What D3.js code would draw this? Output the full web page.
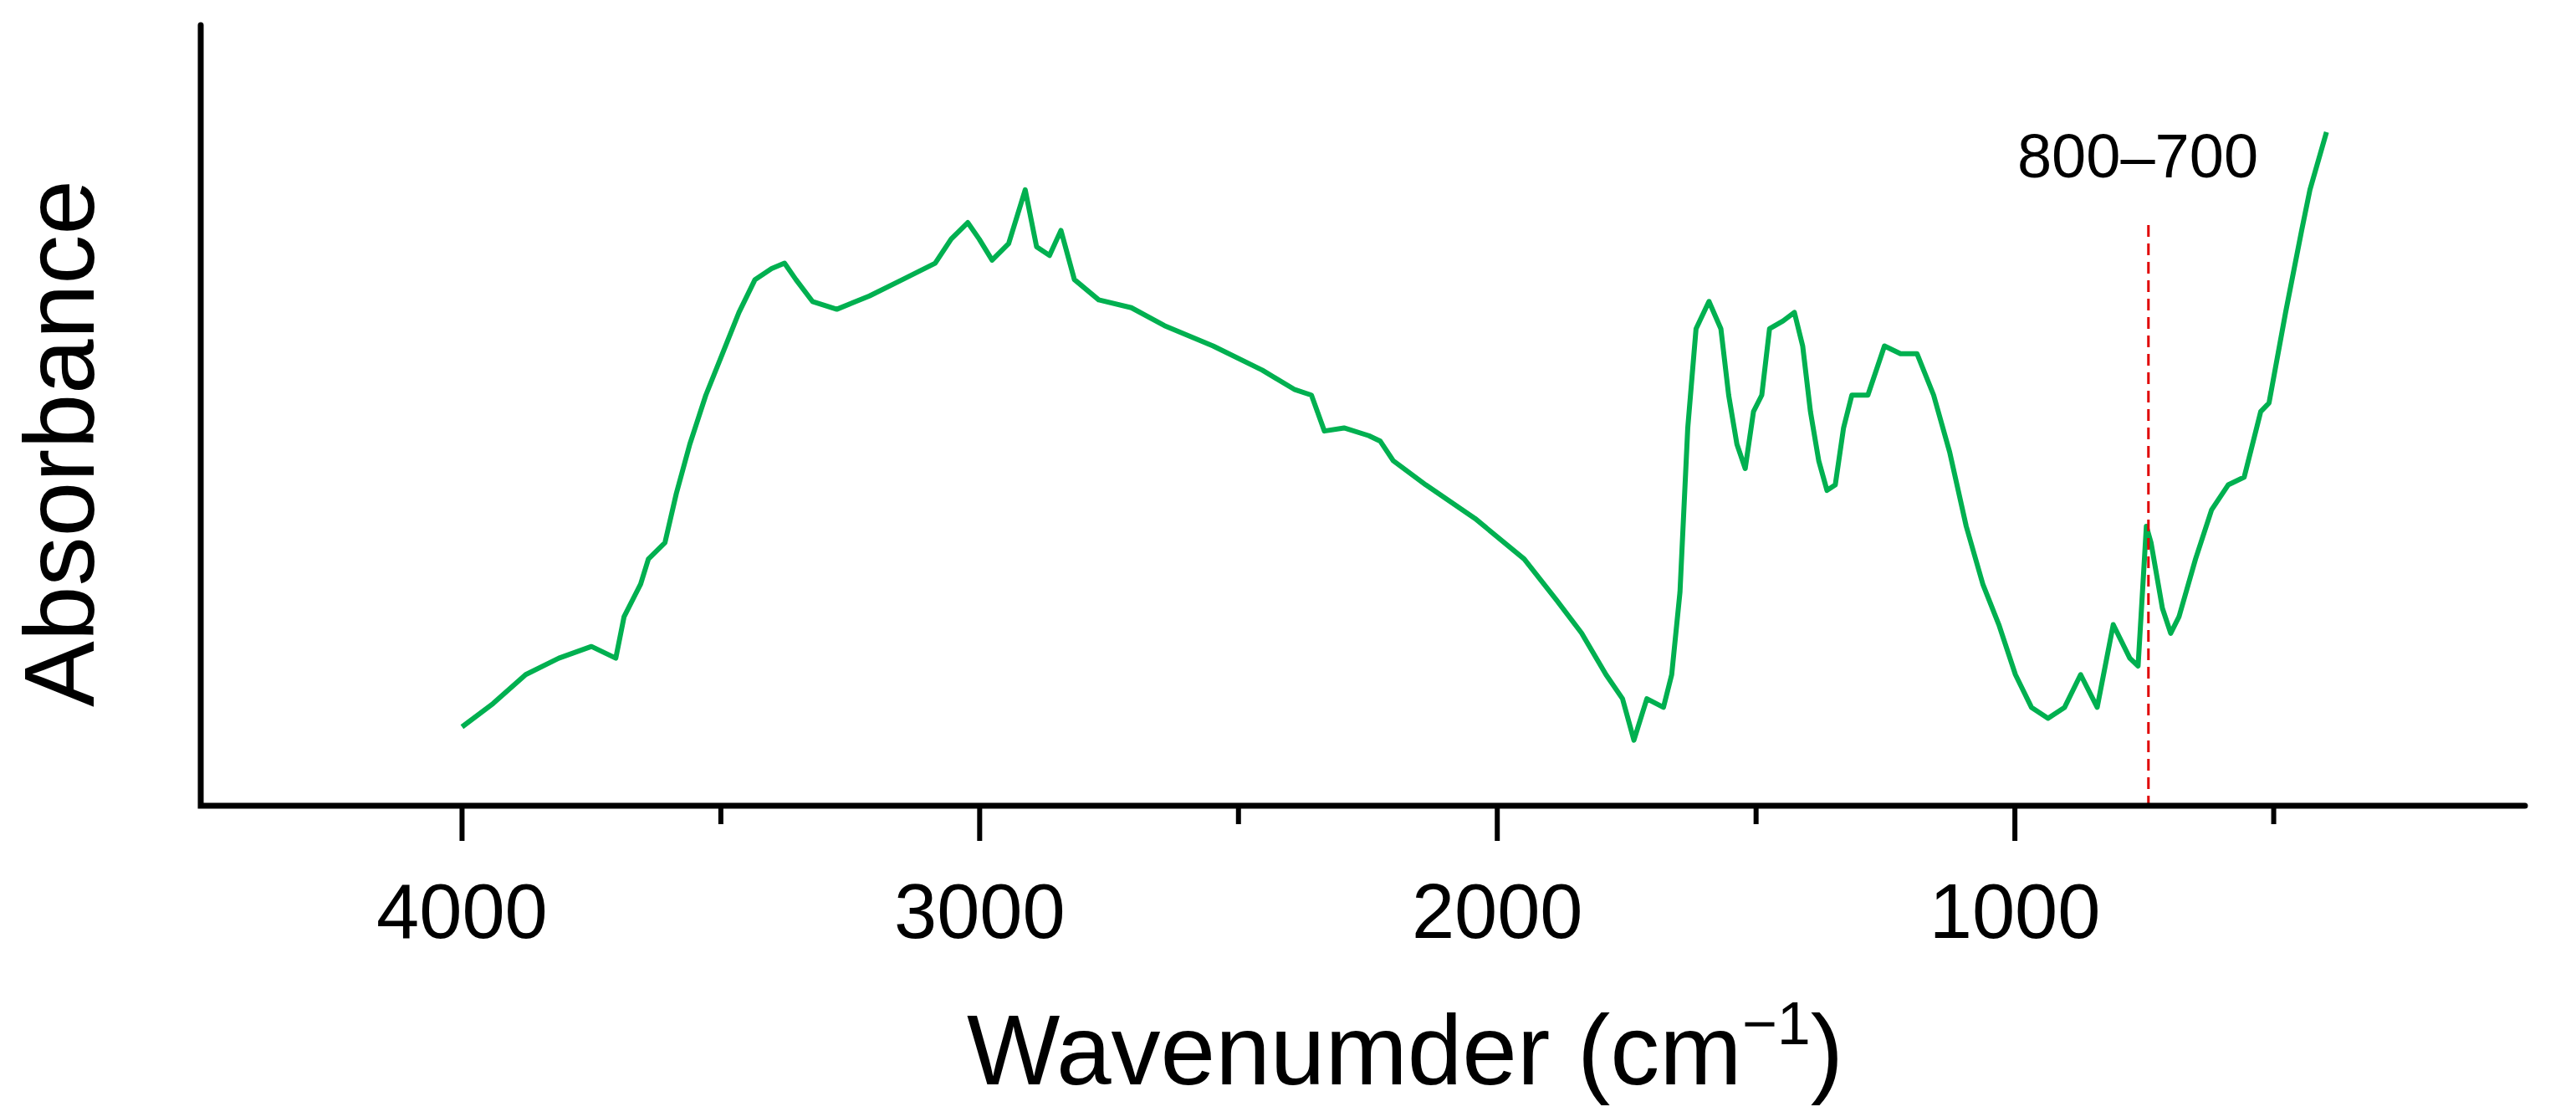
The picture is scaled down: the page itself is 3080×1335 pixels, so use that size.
<!DOCTYPE html>
<html><head><meta charset="utf-8">
<script src="https://cdn.jsdelivr.net/npm/d3@7"></script>
<style>body{margin:0;background:#fff}svg{display:block}text{font-family:"Liberation Sans",Arial,sans-serif}</style>
</head><body><svg id="c" width="3080" height="1335"></svg>
<script>
const wavenumber=[4000,3940,3877,3813,3750,3703,3687,3655,3640,3608,3586,3560,3529,3497,3465,3434,3402,3377,3355,3323,3276,3213,3149,3086,3055,3023,3001,2976,2944,2912,2890,2865,2843,2817,2770,2707,2643,2549,2454,2391,2359,2334,2296,2248,2226,2201,2138,2043,1948,1885,1837,1790,1758,1736,1711,1679,1663,1647,1632,1616,1591,1568,1553,1537,1521,1505,1489,1474,1448,1426,1410,1395,1379,1363,1347,1331,1315,1284,1252,1221,1189,1157,1126,1094,1062,1031,999,968,936,904,873,841,810,778,762,746,737,715,699,683,651,620,588,557,525,509,477,446,430,398];
const absorbance=[0.101,0.131,0.168,0.189,0.204,0.189,0.242,0.284,0.316,0.337,0.400,0.463,0.526,0.579,0.632,0.674,0.688,0.695,0.674,0.646,0.636,0.653,0.674,0.695,0.726,0.747,0.726,0.699,0.720,0.789,0.716,0.705,0.737,0.674,0.648,0.638,0.615,0.589,0.558,0.533,0.526,0.480,0.484,0.474,0.467,0.442,0.411,0.368,0.316,0.263,0.221,0.168,0.137,0.084,0.137,0.126,0.168,0.274,0.484,0.611,0.646,0.611,0.526,0.463,0.432,0.505,0.526,0.611,0.621,0.632,0.589,0.505,0.442,0.404,0.411,0.484,0.526,0.526,0.589,0.579,0.579,0.526,0.453,0.358,0.284,0.232,0.168,0.126,0.112,0.126,0.168,0.126,0.232,0.189,0.179,0.358,0.337,0.253,0.221,0.242,0.316,0.379,0.411,0.421,0.505,0.516,0.632,0.737,0.789,0.863];
const majorTicks=[4000,3000,2000,1000];
const minorTicks=[3500,2500,1500,500];
const markerWn=742;
const markerLabel="800–700";

const svg=d3.select("#c");
const x=d3.scaleLinear().domain([4500,0]).range([243,3028]);
const y=d3.scaleLinear().domain([0,1]).range([963,30]);
const x0=240,yb=963,xr=3019,yt=30;

svg.append("path").datum(d3.range(wavenumber.length))
 .attr("d",d3.line().x(i=>x(wavenumber[i])).y(i=>y(absorbance[i])))
 .attr("fill","none").attr("stroke","#00b050").attr("stroke-width",6).attr("stroke-linejoin","round");

svg.append("line").attr("x1",x(markerWn)).attr("x2",x(markerWn)).attr("y1",269).attr("y2",yb)
 .attr("stroke","#e00000").attr("stroke-width",3).attr("stroke-dasharray","14,8");
svg.append("text").attr("x",2556).attr("y",212).attr("text-anchor","middle").attr("font-size",74).text(markerLabel);

const g=svg.append("g");
g.selectAll(".mj").data(majorTicks).join("line").attr("x1",d=>x(d)).attr("x2",d=>x(d)).attr("y1",yb).attr("y2",yb+42).attr("stroke","#000").attr("stroke-width",6);
g.selectAll(".mn").data(minorTicks).join("line").attr("x1",d=>x(d)).attr("x2",d=>x(d)).attr("y1",yb).attr("y2",yb+22).attr("stroke","#000").attr("stroke-width",6);
g.selectAll(".tl").data(majorTicks).join("text").attr("x",d=>x(d)).attr("y",1121).attr("text-anchor","middle").attr("font-size",92).text(d=>d);
svg.append("path").attr("d",`M${x0},${yt}V${yb}H${xr}`).attr("fill","none").attr("stroke","#000").attr("stroke-width",7).attr("stroke-linecap","round");

const t=svg.append("text").attr("x",1680).attr("y",1296).attr("text-anchor","middle").attr("font-size",118);
t.append("tspan").text("Wavenumder (cm");
t.append("tspan").attr("dy",-48).attr("font-size",72).text("−1");
t.append("tspan").attr("dy",48).text(")");
svg.append("text").attr("transform","translate(112,530) rotate(-90)").attr("text-anchor","middle").attr("font-size",118).text("Absorbance");
</script></body></html>
